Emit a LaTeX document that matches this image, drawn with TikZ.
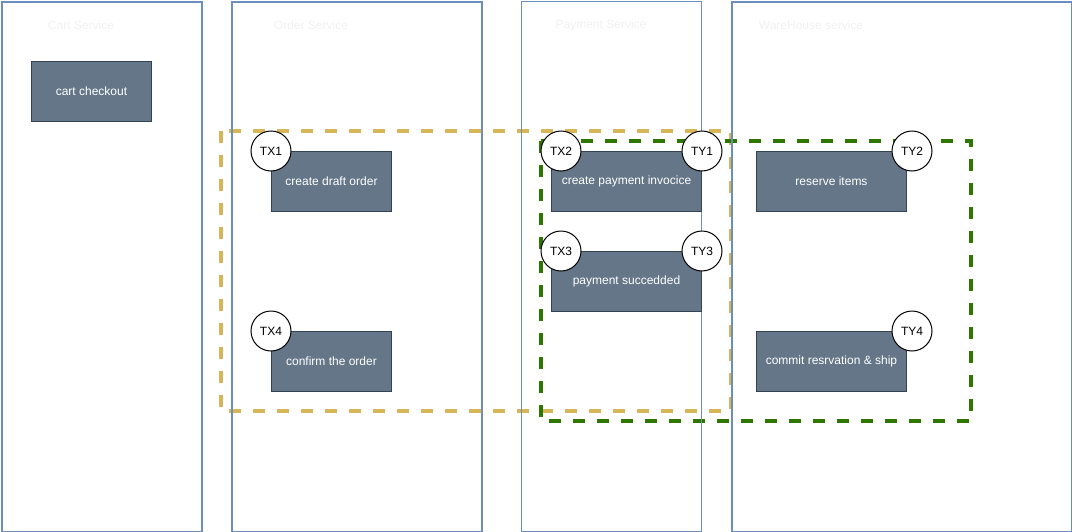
\documentclass[tikz,border=0pt]{standalone}
\usepackage{fontspec}
\setmainfont{Liberation Sans}
\usetikzlibrary{calc}

\begin{document}
\begin{tikzpicture}[x=0.75pt, y=-0.75pt, font=\fontsize{9pt}{11pt}\selectfont]
    % Define colours
    \definecolor{laneColour}{HTML}{6C8EBF}
    \definecolor{titleColour}{HTML}{F0F0F0}
    \definecolor{stepFill}{HTML}{647687}
    \definecolor{stepBorder}{HTML}{314354}
    \definecolor{orderTx}{HTML}{D6B656}
    \definecolor{paymentTx}{HTML}{2D7600}

    % Define styles
    \tikzset{
        lane/.style={draw=laneColour, line width=1.5pt, anchor=north west, inner sep=0pt},
        lanetitle/.style={text=titleColour, anchor=center},
        stepbox/.style={draw=stepBorder, fill=stepFill, text=white, line width=0.75pt,
            minimum width=90pt, minimum height=45pt, inner sep=0pt, anchor=north west},
        wide/.style={minimum width=112.5pt},
        txmark/.style={circle, draw=black, fill=white, line width=0.75pt,
            minimum size=30pt, inner sep=0pt},
        txgroup/.style={dashed, line width=3pt, dash pattern=on 9pt off 9pt}
    }

    \useasboundingbox (0,0) rectangle (1072,532);

    % Draw transaction groups
    \draw[txgroup, draw=orderTx] (221,131) rectangle (731,411);
    \draw[txgroup, draw=paymentTx] (541,141) rectangle (971,421);

    % Draw service lanes
    \node[lane, minimum width=150pt, minimum height=397.5pt] (cartLane) at (1,1) {};
    \node[lane, minimum width=187.5pt, minimum height=397.5pt] (orderLane) at (231,1) {};
    \node[lane, line width=0.75pt, minimum width=135pt, minimum height=397.5pt] (paymentLane) at (521,1) {};
    \node[lane, minimum width=255pt, minimum height=397.5pt] (warehouseLane) at (731,1) {};

    % Lane titles
    \node[lanetitle] (cartTitle) at (81,25) {Cart Service};
    \node[lanetitle] (orderTitle) at (311,25) {Order Service};
    \node[lanetitle] (paymentTitle) at (601,25) {Payment Service};
    \node[lanetitle] (warehouseTitle) at (811,25) {WareHouse service};

    % Draw steps
    \node[stepbox] (checkout) at (31,61) {cart checkout};
    \node[stepbox] (draft) at (271,151) {create draft order};
    \node[stepbox] (confirm) at (271,331) {confirm the order};
    \node[stepbox, wide] (invoice) at (551,151) {create payment invocice};
    \node[stepbox, wide] (paid) at (551,251) {payment succedded};
    \node[stepbox, wide] (reserve) at (756,151) {reserve items};
    \node[stepbox, wide] (ship) at (756,331) {commit resrvation \& ship};

    % Transaction markers
    \node[txmark] (tx1) at (draft.north west) {TX1};
    \node[txmark] (tx4) at (confirm.north west) {TX4};
    \node[txmark] (tx2) at ($(invoice.north west)+(10,0)$) {TX2};
    \node[txmark] (ty1) at (invoice.north east) {TY1};
    \node[txmark] (tx3) at ($(paid.north west)+(10,0)$) {TX3};
    \node[txmark] (ty3) at (paid.north east) {TY3};
    \node[txmark] (ty2) at ($(reserve.north east)+(5,0)$) {TY2};
    \node[txmark] (ty4) at ($(ship.north east)+(5,0)$) {TY4};

\end{tikzpicture}
\end{document}
